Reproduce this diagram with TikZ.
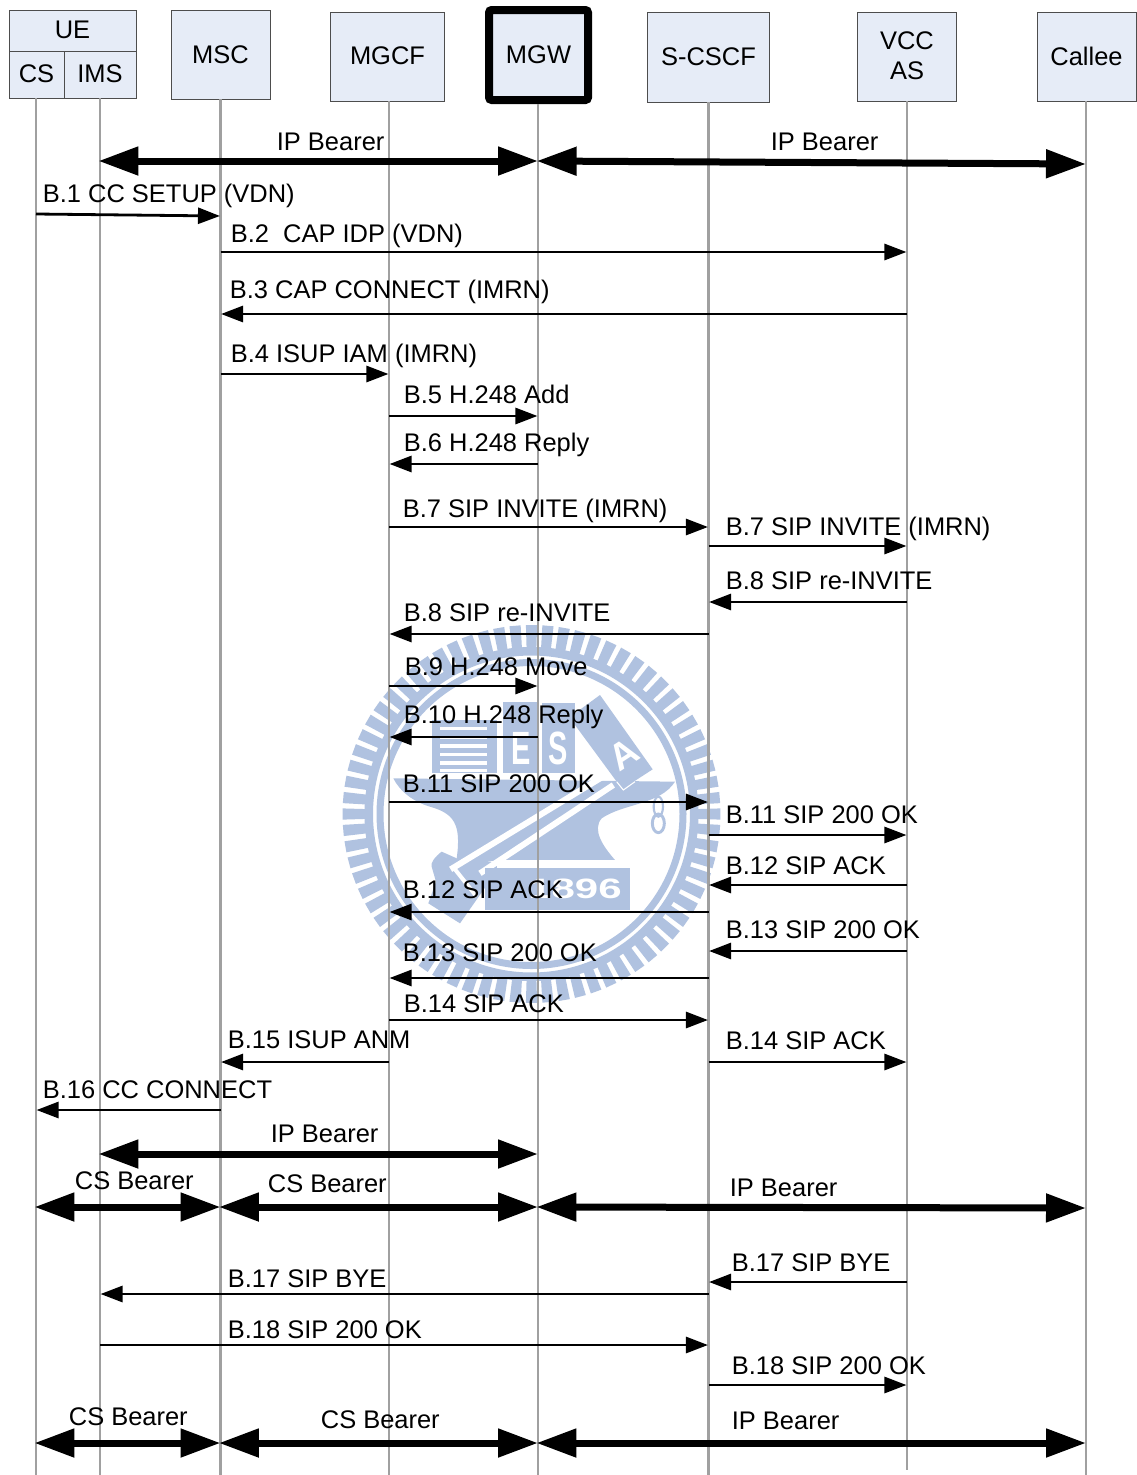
\documentclass[tikz,border=0pt]{standalone}
\usepackage{fontspec}
\setmainfont{Liberation Sans}
\usepackage{xcolor}
\usetikzlibrary{arrows.meta,positioning,calc}
\definecolor{boxfill}{HTML}{E6ECF7}
\definecolor{boxline}{HTML}{4D4D4D}
\definecolor{lifegray}{HTML}{A0A0A0}
\definecolor{wmblue}{HTML}{B0C2E0}

\begin{document}
\begin{tikzpicture}[
  x=0.75pt,y=-0.75pt,
  font=\fontsize{19.1}{22.5}\selectfont,
  box/.style={draw=boxline,line width=0.7pt,fill=boxfill,align=center,inner sep=0pt},
  heavybox/.style={draw=black,line width=6pt,rounded corners=2pt,fill=boxfill,align=center,inner sep=0pt},
  life/.style={draw=lifegray,line width=1.9pt},
  arr/.style={-{Triangle[length=16.5pt,width=12pt]},line width=2.1pt,shorten >=0.4pt},
  bearer/.style={{Triangle[length=30pt,width=20.5pt]}-{Triangle[length=30pt,width=20.5pt]},line width=5.25pt,shorten <=-1.2pt},
  lbl/.style={anchor=base west,inner sep=0pt,xshift=-0.3pt},
  wmtext/.style={white,font=\bfseries,inner sep=0pt}
]
\path[use as bounding box,fill=white] (0,0) rectangle (1137,1475);

\begin{scope}[shift={(531.5,814)}]
\foreach \a in {0,5,...,355}
  \fill[wmblue] (\a-1.7:165) -- (\a+1.7:165) -- (\a+1.7:189) -- (\a-1.7:189) -- cycle;
\draw[wmblue,line width=6.4pt] (0,0) circle (162.75);
\draw[wmblue,line width=5.25pt] (0,0) circle (151.5);
\end{scope}
\begin{scope}[shift={(330,610)},x=.25pt,y=-.25pt]
\fill[wmblue] (190,505) -- (1035,515) .. controls (990,585) and (880,580) .. (815,625)
  .. controls (785,660) and (820,710) .. (855,750) -- (505,750) -- (385,770) -- (380,745)
  .. controls (395,640) and (370,610) .. (300,590) .. controls (250,575) and (210,545) .. (190,505) -- cycle;
\fill[wmblue] (335,725) .. controls (315,740) and (300,760) .. (305,770) -- (318,815) -- (295,880)
  -- (390,940) -- (460,840) -- (520,760) -- (380,745) -- cycle;
\draw[white,line width=4.5pt] (362,778) -- (835,490);
\draw[white,line width=4.5pt] (450,790) -- (850,525);
\draw[white,line width=3pt] (375,778) -- (440,860);
\fill[white] (500,750) rectangle (860,775);
\fill[wmblue] (465,775) rectangle (900,900);
\fill[wmblue] (305,330) rectangle (500,490);
\foreach \s in {355,382,408,434,459,482}
  \fill[white] (330,\s-5) rectangle (470,\s+5);
\fill[wmblue] (520,275) rectangle (625,490);
\fill[wmblue] (635,280) rectangle (735,490);
\fill[wmblue] (735,310) -- (810,255) -- (968,478) -- (880,535) -- (858,512) -- (735,345) -- cycle;
\draw[white,line width=.8pt] (860,515) -- (880,540) -- (915,515);
\draw[wmblue,line width=1.6pt] (985,590) ellipse (14 and 30);
\draw[wmblue,line width=2.2pt] (985,640) ellipse (18 and 28);
\node[wmtext,xscale=.62] (wmE) at (573,415) {\fontsize{35}{35}\selectfont E};
\node[wmtext,xscale=.62] (wmS) at (685,415) {\fontsize{35}{35}\selectfont S};
\node[wmtext,rotate=33] (wmA) at (880,432) {\fontsize{28}{28}\selectfont A};
\node[wmtext,xscale=1.5] (wmyear) at (735,838) {\fontsize{21}{21}\selectfont 1896};
\end{scope}

\coordinate (csend) at (36,1475);
\coordinate (imsend) at (100,1475);
\coordinate (mscend) at (220.5,1475);
\coordinate (mgcfend) at (389,1475);
\coordinate (mgwend) at (538,1475);
\coordinate (scscfend) at (708.5,1475);
\coordinate (vccend) at (907,1470);
\coordinate (calleeend) at (1086,1475);

\node[box,minimum width=95.25pt,minimum height=30.75pt] (ue) at (72.5,30.5) {\raisebox{0.75pt}{UE}};
\node[box,minimum width=41.25pt,minimum height=35.25pt] (cs) at (36.5,74.5) {\raisebox{0.75pt}{CS}};
\node[box,minimum width=54pt,minimum height=35.25pt] (ims) at (100,74.5) {\raisebox{0.75pt}{IMS}};
\node[box,minimum width=74.25pt,minimum height=66.75pt] (msc) at (220.5,54.5) {MSC};
\node[box,minimum width=85.5pt,minimum height=66.75pt] (mgcf) at (387.5,56.5) {\raisebox{0.75pt}{MGCF}};
\node[heavybox,minimum width=74.25pt,minimum height=67.5pt] (mgw) at (538.5,55) {MGW};
\node[box,minimum width=91.5pt,minimum height=67.5pt] (scscf) at (708.5,57) {S-CSCF};
\node[box,minimum width=74.25pt,minimum height=66.75pt] (vcc) at (907,56.5) {\raisebox{0.75pt}{VCC}\\\raisebox{0.75pt}{AS}};
\node[box,minimum width=74.25pt,minimum height=66.75pt] (callee) at (1086.5,56.5) {Callee};

\draw[life] (csend |- cs.south) -- (csend);
\draw[life] (imsend |- ims.south) -- (imsend);
\draw[life] (mscend |- msc.south) -- (mscend);
\draw[life] (mgcfend |- mgcf.south) -- (mgcfend);
\draw[life] (mgwend |- mgw.south) -- (mgwend);
\draw[life] (scscfend |- scscf.south) -- (scscfend);
\draw[life] (vccend |- vcc.south) -- (vccend);
\draw[life] (calleeend |- callee.south) -- (calleeend);

\node[lbl] (bearer1) at (277,150) {IP Bearer};
\draw[bearer] (imsend |- 0,161) -- (mgwend |- 0,161);
\node[lbl] (bearer2) at (771,150) {IP Bearer};
\draw[bearer,shorten <=-1pt] (mgwend |- 0,161) -- (calleeend |- 0,164);
\node[lbl] (msg1) at (43,202) {B.1 CC SETUP (VDN)};
\draw[arr] (csend |- 0,214) -- (mscend |- 0,216);
\node[lbl] (msg2) at (231,242) {B.2\ \ CAP IDP (VDN)};
\draw[arr] (mscend |- 0,252) -- (vccend |- 0,252);
\node[lbl] (msg3) at (230,298) {B.3 CAP CONNECT (IMRN)};
\draw[arr] (vccend |- 0,314) -- (mscend |- 0,314);
\node[lbl] (msg4) at (231,362) {B.4 ISUP IAM (IMRN)};
\draw[arr] (mscend |- 0,374) -- (mgcfend |- 0,374);
\node[lbl] (msg5) at (404,403) {B.5 H.248 Add};
\draw[arr] (mgcfend |- 0,416) -- (mgwend |- 0,416);
\node[lbl] (msg6) at (404,451) {B.6 H.248 Reply};
\draw[arr] (mgwend |- 0,464) -- (mgcfend |- 0,464);
\node[lbl] (msg7) at (403,517) {B.7 SIP INVITE (IMRN)};
\draw[arr] (mgcfend |- 0,527) -- (scscfend |- 0,527);
\node[lbl] (msg7b) at (726,535) {B.7 SIP INVITE (IMRN)};
\draw[arr] (scscfend |- 0,546) -- (vccend |- 0,546);
\node[lbl] (msg8) at (726,589) {B.8 SIP re-INVITE};
\draw[arr] (vccend |- 0,602) -- (scscfend |- 0,602);
\node[lbl] (msg8b) at (404,621) {B.8 SIP re-INVITE};
\draw[arr] (scscfend |- 0,634) -- (mgcfend |- 0,634);
\node[lbl] (msg9) at (405,675) {B.9 H.248 Move};
\draw[arr] (mgcfend |- 0,686) -- (mgwend |- 0,686);
\node[lbl] (msg10) at (404,723) {B.10 H.248 Reply};
\draw[arr] (mgwend |- 0,737) -- (mgcfend |- 0,737);
\node[lbl] (msg11) at (403,792) {B.11 SIP 200 OK};
\draw[arr] (mgcfend |- 0,802) -- (scscfend |- 0,802);
\node[lbl] (msg11b) at (726,823) {B.11 SIP 200 OK};
\draw[arr] (scscfend |- 0,835) -- (vccend |- 0,835);
\node[lbl] (msg12) at (726,874) {B.12 SIP ACK};
\draw[arr] (vccend |- 0,885) -- (scscfend |- 0,885);
\node[lbl] (msg12b) at (403,898) {B.12 SIP ACK};
\draw[arr] (scscfend |- 0,912) -- (mgcfend |- 0,912);
\node[lbl] (msg13) at (726,938) {B.13 SIP 200 OK};
\draw[arr] (vccend |- 0,951) -- (scscfend |- 0,951);
\node[lbl] (msg13b) at (403,961) {B.13 SIP 200 OK};
\draw[arr] (scscfend |- 0,978) -- (mgcfend |- 0,978);
\node[lbl] (msg14) at (404,1012) {B.14 SIP ACK};
\draw[arr] (mgcfend |- 0,1020) -- (scscfend |- 0,1020);
\node[lbl] (msg14b) at (726,1049) {B.14 SIP ACK};
\draw[arr] (scscfend |- 0,1062) -- (vccend |- 0,1062);
\node[lbl] (msg15) at (228,1048) {B.15 ISUP ANM};
\draw[arr] (mgcfend |- 0,1062) -- (mscend |- 0,1062);
\node[lbl] (msg16) at (43,1098) {B.16 CC CONNECT};
\draw[arr] (mscend |- 0,1110) -- (csend |- 0,1110);
\node[lbl] (bearer3) at (271,1142) {IP Bearer};
\draw[bearer] (imsend |- 0,1154) -- (mgwend |- 0,1154);
\node[lbl] (bearer4) at (75,1189) {CS Bearer};
\draw[bearer] (csend |- 0,1207) -- (mscend |- 0,1207);
\node[lbl] (bearer5) at (268,1192) {CS Bearer};
\draw[bearer] (mscend |- 0,1207) -- (mgwend |- 0,1207);
\node[lbl] (bearer6) at (730,1196) {IP Bearer};
\draw[bearer] (mgwend |- 0,1207) -- (calleeend |- 0,1208);
\node[lbl] (msg17) at (732,1271) {B.17 SIP BYE};
\draw[arr] (vccend |- 0,1282) -- (scscfend |- 0,1282);
\node[lbl] (msg17b) at (228,1287) {B.17 SIP BYE};
\draw[arr] (scscfend |- 0,1294) -- (imsend |- 0,1294);
\node[lbl] (msg18) at (228,1338) {B.18 SIP 200 OK};
\draw[arr] (imsend |- 0,1345) -- (scscfend |- 0,1345);
\node[lbl] (msg18b) at (732,1374) {B.18 SIP 200 OK};
\draw[arr] (scscfend |- 0,1385) -- (vccend |- 0,1385);
\node[lbl] (bearer7) at (69,1425) {CS Bearer};
\draw[bearer] (csend |- 0,1443) -- (mscend |- 0,1443);
\node[lbl] (bearer8) at (321,1428) {CS Bearer};
\draw[bearer] (mscend |- 0,1443) -- (mgwend |- 0,1443);
\node[lbl] (bearer9) at (732,1429) {IP Bearer};
\draw[bearer] (mgwend |- 0,1443) -- (calleeend |- 0,1443);
\end{tikzpicture}
\end{document}
